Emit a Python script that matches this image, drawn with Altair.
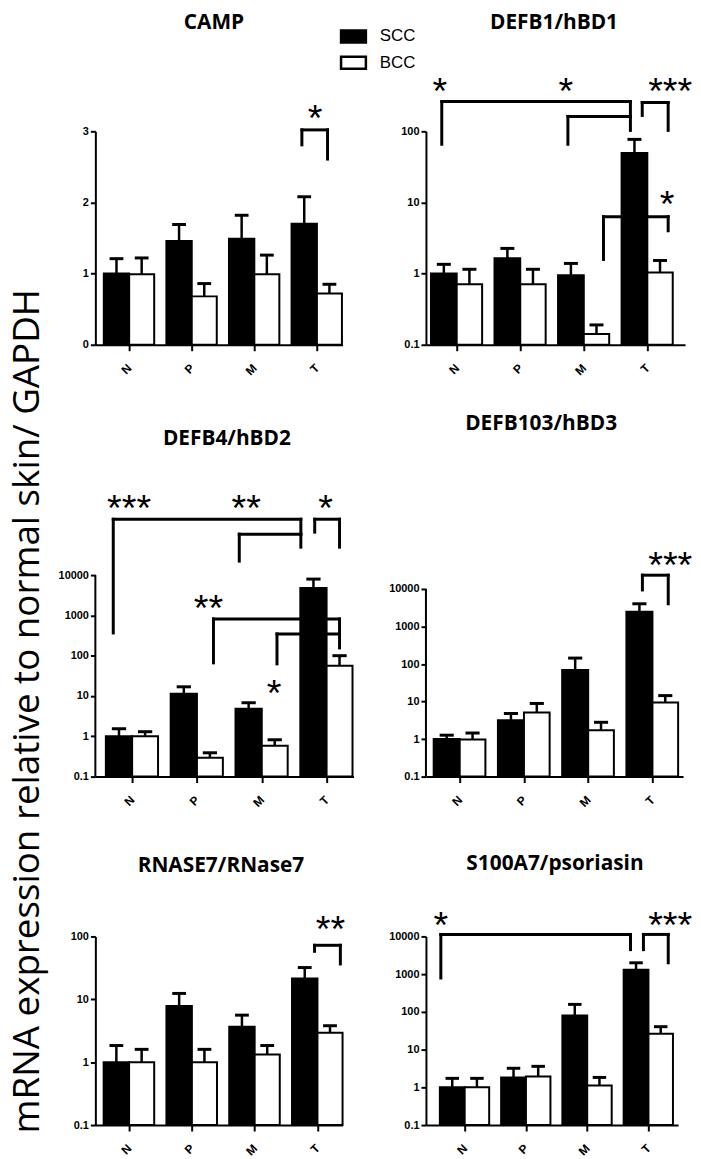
import math
import altair as alt
import pandas as pd

# ---------------- data ----------------
categories = ["N", "P", "M", "T"]
groups = ["SCC", "BCC"]
titles = ["CAMP", "DEFB1/hBD1", "DEFB4/hBD2", "DEFB103/hBD3", "RNASE7/RNase7", "S100A7/psoriasin"]
y_title = "mRNA expression relative to normal skin/ GAPDH"

# mean values and upper end of the error bar (mean + SEM)
camp_scc = [1.00, 1.46, 1.49, 1.70]
camp_scc_hi = [1.21, 1.69, 1.82, 2.08]
camp_bcc = [0.99, 0.68, 0.99, 0.72]
camp_bcc_hi = [1.22, 0.86, 1.26, 0.85]

defb1_scc = [1.00, 1.64, 0.95, 49.4]
defb1_scc_hi = [1.35, 2.26, 1.39, 77.0]
defb1_bcc = [0.71, 0.71, 0.142, 1.04]
defb1_bcc_hi = [1.15, 1.15, 0.19, 1.53]

defb4_scc = [1.00, 11.3, 4.8, 4770]
defb4_scc_hi = [1.54, 16.9, 6.8, 7950]
defb4_bcc = [1.00, 0.295, 0.585, 56]
defb4_bcc_hi = [1.30, 0.39, 0.82, 100]

defb103_scc = [1.00, 3.16, 69.5, 2480]
defb103_scc_hi = [1.27, 4.8, 144, 4030]
defb103_bcc = [0.97, 5.1, 1.73, 9.4]
defb103_bcc_hi = [1.45, 8.9, 2.8, 14.4]

rnase7_scc = [1.00, 7.8, 3.65, 21.5]
rnase7_scc_hi = [1.84, 12.4, 5.6, 32.0]
rnase7_bcc = [1.00, 1.00, 1.33, 2.94]
rnase7_bcc_hi = [1.60, 1.60, 1.84, 3.8]

s100a7_scc = [1.00, 1.83, 80, 1300]
s100a7_scc_hi = [1.73, 3.2, 158, 2000]
s100a7_bcc = [1.00, 1.95, 1.12, 26.3]
s100a7_bcc_hi = [1.73, 3.6, 1.83, 40.5]

series = [
    (camp_scc, camp_scc_hi, camp_bcc, camp_bcc_hi),
    (defb1_scc, defb1_scc_hi, defb1_bcc, defb1_bcc_hi),
    (defb4_scc, defb4_scc_hi, defb4_bcc, defb4_bcc_hi),
    (defb103_scc, defb103_scc_hi, defb103_bcc, defb103_bcc_hi),
    (rnase7_scc, rnase7_scc_hi, rnase7_bcc, rnase7_bcc_hi),
    (s100a7_scc, s100a7_scc_hi, s100a7_bcc, s100a7_bcc_hi),
]

# significance brackets: (x left, x right, y top, y left end, y right end) in data units
camp_brackets = [(2.76, 3.17, 3.02, 2.81, 2.61)]
defb1_brackets = [(-0.235, 2.734, 262, 65.8, 103),
                  (1.75, 2.734, 162, 65.8, 162),
                  (2.92, 3.328, 254, 167, 103),
                  (2.31, 3.328, 6.3, 1.58, 4.0)]
defb4_brackets = [(-0.291, 2.603, 2.43e5, 366, 4.93e4),
                  (1.653, 2.603, 1.035e5, 2.22e4, 1.035e5),
                  (2.817, 3.2, 2.43e5, 1.16e5, 4.93e4),
                  (1.255, 3.2, 814, 66.4, 347),
                  (2.235, 3.2, 347, 62.7, 156)]
defb103_brackets = [(2.844, 3.246, 2.33e4, 9420, 4030)]
rnase7_brackets = [(2.954, 3.365, 72.3, 58, 36.5)]
s100a7_brackets = [(-0.389, 2.707, 1.13e4, 791, 4470),
                   (2.918, 3.323, 1.13e4, 4470, 2000)]

# significance labels: (x, y, text)
camp_stars = [(2.97, 3.31, "*")]
defb1_stars = [(-0.266, 483, "*"), (1.718, 483, "*"), (3.36, 483, "***"), (3.31, 12.8, "*")]
defb4_stars = [(-0.046, 7.6e5, "***"), (1.76, 7.6e5, "**"), (2.986, 7.6e5, "*"),
               (1.179, 2546, "**"), (2.19, 20, "*")]
defb103_stars = [(3.277, 7.4e4, "***")]
rnase7_stars = [(3.207, 184, "**")]
s100a7_stars = [(-0.389, 3.45e4, "*"), (3.355, 3.45e4, "***")]

brackets = [camp_brackets, defb1_brackets, defb4_brackets, defb103_brackets, rnase7_brackets, s100a7_brackets]
stars = [camp_stars, defb1_stars, defb4_stars, defb103_stars, rnase7_stars, s100a7_stars]

log_ticks3 = [0.1, 1, 10, 100]
log_ticks5 = [0.1, 1, 10, 100, 1000, 10000]

# ---------------- layout ----------------
# row 2 plot areas reach above their top tick (axis line drawn as a rule up to the top tick)
layout = [
    dict(width=249, height=215, xdom=(-0.54, 3.41), ylog=False, ydom=(0, 3), yticks=[0, 1, 2, 3], title_y=-104, title_dx=-5),
    dict(width=261, height=215, xdom=(-0.484, 3.594), ylog=True, ydom=(0.1, 100), yticks=log_ticks3, title_y=-104, title_dx=-1.5),
    dict(width=260, height=274, xdom=(-0.567, 3.415), ylog=True, ydom=(0.1, 5.61e5), axis_top=10000, yticks=log_ticks5, title_y=-61, title_dx=2.5),
    dict(width=259, height=274, xdom=(-0.5255, 3.477), ylog=True, ydom=(0.1, 1.774e6), axis_top=10000, yticks=log_ticks5, title_y=-60, title_dx=-13.5),
    dict(width=249, height=190, xdom=(-0.537, 3.4), ylog=True, ydom=(0.1, 100), yticks=log_ticks3, title_y=-66, title_dx=2),
    dict(width=254, height=190, xdom=(-0.632, 3.484), ylog=True, ydom=(0.1, 10000), yticks=log_ticks5, title_y=-68, title_dx=3),
]

STAR_FS = 38
STAR_DY = round(0.58 * STAR_FS)
LABEL_FONT = "Liberation Sans"
TITLE_FONT = "Open Sans"

label_expr = " : ".join(f"datum.value == {i} ? '{c}'" for i, c in enumerate(categories[:-1])) + f" : '{categories[-1]}'"


def ypix(v, L):
    d0, d1 = L["ydom"]
    if L["ylog"]:
        f = (math.log10(v) - math.log10(d0)) / (math.log10(d1) - math.log10(d0))
    else:
        f = (v - d0) / (d1 - d0)
    return L["height"] * (1 - f)


def make_panel(k):
    L = layout[k]
    scc, scc_hi, bcc, bcc_hi = series[k]
    base_val = L["ydom"][0]
    rows = []
    for i, c in enumerate(categories):
        rows.append(dict(cat=c, group="SCC", x1=i - 0.405, x2=i, xc=i - 0.2025,
                         mean=scc[i], hi=scc_hi[i], base=base_val))
        rows.append(dict(cat=c, group="BCC", x1=i, x2=i + 0.40, xc=i + 0.2,
                         mean=bcc[i], hi=bcc_hi[i], base=base_val))
    df = pd.DataFrame(rows)
    df["cl"] = df["xc"] - 0.11
    df["cr"] = df["xc"] + 0.11

    segs = []
    for (xl, xr, yt, yl, yr) in brackets[k]:
        segs.append(dict(x=xl, x2=xl, y=yt, y2=yl))
        segs.append(dict(x=xl, x2=xr, y=yt, y2=yt))
        segs.append(dict(x=xr, x2=xr, y=yt, y2=yr))
    seg_df = pd.DataFrame(segs)
    star_df = pd.DataFrame([dict(x=a, y=b, t=c) for a, b, c in stars[k]])

    xs = alt.Scale(domain=list(L["xdom"]), nice=False, zero=False)
    ys = alt.Scale(type="log" if L["ylog"] else "linear", domain=list(L["ydom"]), nice=False, zero=False)

    custom_axis = "axis_top" in L
    ax_kwargs = dict(
        values=L["yticks"], format="~g", grid=False, title=None,
        labelFont=LABEL_FONT, labelFontWeight="bold", labelFontSize=11, labelColor="black",
        labelPadding=2, tickSize=5, tickWidth=2, tickColor="black",
        domain=not custom_axis, domainColor="black", domainWidth=2,
    )
    if k == 0:
        # the shared y title runs down the left edge of the whole figure
        ax_kwargs.update(title=y_title, titleFont=TITLE_FONT, titleFontSize=37, titleFontWeight="normal",
                         titleColor="black", titleAngle=270, titleAlign="left", titleBaseline="alphabetic",
                         titleX=-57, titleY=1009)
    yaxis = alt.Axis(**ax_kwargs)
    xaxis = alt.Axis(values=list(range(len(categories))), labelExpr=label_expr, labelAngle=315,
                     labelAlign="right", labelBaseline="middle", labelFont=LABEL_FONT,
                     labelFontWeight="bold", labelFontSize=12, labelColor="black", labelPadding=15,
                     tickSize=6, tickWidth=2, tickColor="black", domainColor="black", domainWidth=2,
                     grid=False, title=None, labelOverlap=False)

    if k == 0:
        legend = alt.Legend(orient="none", legendX=248.5, legendY=-107, title=None,
                            symbolType="M-1.25,-0.6H1.25V0.6H-1.25Z", symbolSize=400,
                            symbolStrokeColor="black", symbolStrokeWidth=2.5,
                            labelFont=LABEL_FONT, labelFontSize=17, labelColor="black",
                            labelOffset=15, rowPadding=3.5, padding=0)
    else:
        legend = None

    X = lambda f: alt.X(f, scale=xs, axis=xaxis)
    Y = lambda f: alt.Y(f, scale=ys, axis=yaxis)

    br = alt.Chart(seg_df).mark_rule(color="black", strokeWidth=3, strokeCap="square").encode(
        x=X("x:Q"), x2="x2:Q", y=Y("y:Q"), y2="y2:Q")
    bars = alt.Chart(df).mark_bar(stroke="black", strokeWidth=2).encode(
        x=X("x1:Q"), x2="x2:Q", y=Y("mean:Q"), y2="base:Q",
        fill=alt.Fill("group:N", scale=alt.Scale(domain=groups, range=["black", "white"]), legend=legend))
    err = alt.Chart(df).mark_rule(color="black", strokeWidth=2.5).encode(
        x=X("xc:Q"), y=Y("mean:Q"), y2="hi:Q")
    caps = alt.Chart(df).mark_rule(color="black", strokeWidth=3).encode(
        x=X("cl:Q"), x2="cr:Q", y=Y("hi:Q"))
    txt = alt.Chart(star_df).mark_text(font=LABEL_FONT, fontSize=STAR_FS, baseline="alphabetic",
                                       align="center", dy=STAR_DY, color="black").encode(
        x=X("x:Q"), y=Y("y:Q"), text="t:N")
    layers = [br, bars, err, caps, txt]
    if custom_axis:
        ax_df = pd.DataFrame([dict(x=L["xdom"][0], y=L["ydom"][0], y2=L["axis_top"])])
        layers.append(alt.Chart(ax_df).mark_rule(color="black", strokeWidth=2).encode(
            x=X("x:Q"), y=Y("y:Q"), y2="y2:Q"))

    # title offset: Vega places the title relative to the top of the view bounds
    # (the text offset dy is not part of those bounds)
    tops = [-6.0]
    for (_, _, yt, _, _) in brackets[k]:
        tops.append(ypix(yt, L) - 1.5)
    for (_, yv, _) in stars[k]:
        tops.append(ypix(yv, L) - round(0.8 * STAR_FS))
    y1 = min(tops)
    off = y1 - L["title_y"]

    title = alt.TitleParams(text=titles[k], font=TITLE_FONT, fontSize=21, fontWeight="bold", color="black",
                            anchor="middle", frame="group", baseline="alphabetic", offset=off, dx=L["title_dx"])
    return alt.layer(*layers).properties(width=L["width"], height=L["height"], title=title)


panels = [make_panel(k) for k in range(6)]
chart = alt.concat(*panels, columns=2, spacing={"row": 161, "column": 73}, bounds="flush")
chart = chart.properties(padding=0, background="white").configure_view(stroke=None)

chart.save("out.html", embed_options={"renderer": "svg", "actions": False})
